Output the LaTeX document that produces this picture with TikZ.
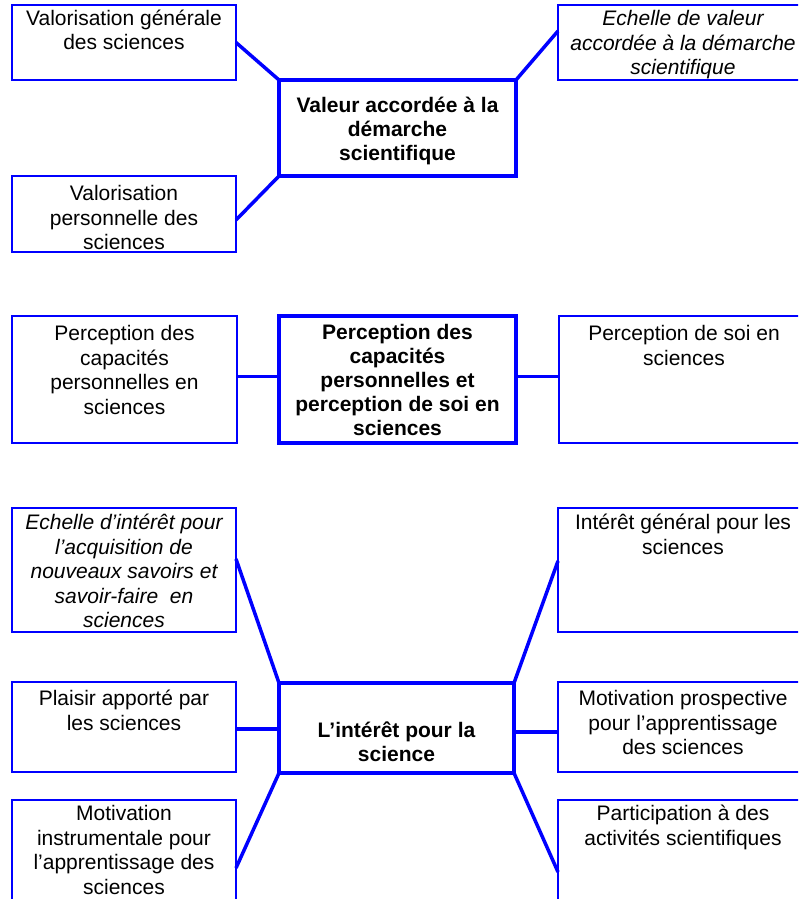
\documentclass[tikz,border=0pt]{standalone}
\usepackage{fontspec}
\setmainfont{Liberation Sans}
\begin{document}
\begin{tikzpicture}[x=1pt,y=-1pt,
  box/.style={draw=blue, line width=1.8pt, inner sep=0pt, outer sep=0pt, anchor=north west},
  mainbox/.style={draw=blue, line width=4.5pt, inner sep=0pt, outer sep=0pt, anchor=north west},
  link/.style={draw=blue, line width=3.5pt},
  txt/.style={anchor=north, inner sep=0pt, outer sep=0pt, align=center, font=\fontsize{21}{24.5}\selectfont},
  btxt/.style={txt, font=\fontsize{21}{24}\selectfont\bfseries},
  itxt/.style={txt, font=\fontsize{21}{24.5}\selectfont\itshape},
]
\useasboundingbox (0,0) rectangle (798,899);
\clip (0,0) rectangle (798,899);

% ---------- top group ----------
\node[box, minimum width=224pt, minimum height=75pt] (tl) at (12,5) {};
\node[box, minimum width=224pt, minimum height=76pt] (ml) at (12,176) {};
\node[mainbox, minimum width=237pt, minimum height=96pt] (c1) at (279,80) {};
\node[box, minimum width=250pt, minimum height=75pt] (tr) at (558,5) {};

\node[txt] (tlt) at (124,8.35) {\strut Valorisation générale\\des sciences};
\node[txt] (mlt) at (124,183.35) {\strut Valorisation\\personnelle des\\sciences};
\node[btxt] (c1t) at (397.5,95.7) {\strut Valeur accordée à la\\démarche\\scientifique};
\node[itxt] (trt) at (683,8.35) {\strut Echelle de valeur\\accordée à la démarche\\scientifique};

\draw[link] (tl.east) -- (c1.north west);
\draw[link] ([yshift=-6pt]ml.east) -- (c1.south west);
\draw[link] (c1.north east) -- ([yshift=11.5pt]tr.west);

% ---------- middle group ----------
\node[box, minimum width=225pt, minimum height=127pt] (pl) at (12,316) {};
\node[mainbox, minimum width=237pt, minimum height=127pt] (c2) at (279,316) {};
\node[box, minimum width=250pt, minimum height=127pt] (pr) at (559,316) {};

\node[txt] (plt) at (124.5,323.35) {\strut Perception des\\capacités\\personnelles en\\sciences};
\node[btxt] (c2t) at (397.5,322.7) {\strut Perception des\\capacités\\personnelles et\\perception de soi en\\sciences};
\node[txt] (prt) at (684,323.35) {\strut Perception de soi en\\sciences};

\draw[link] ([yshift=3pt]pl.east) -- ([yshift=3pt]c2.west);
\draw[link] ([yshift=3pt]c2.east) -- ([yshift=3pt]pr.west);

% ---------- bottom group ----------
\node[box, minimum width=224pt, minimum height=124pt] (b1) at (12,508) {};
\node[box, minimum width=224pt, minimum height=90pt] (b2) at (12,682) {};
\node[box, minimum width=224pt, minimum height=124pt] (b3) at (12,800) {};
\node[mainbox, minimum width=235pt, minimum height=90pt] (c3) at (279,683) {};
\node[box, minimum width=250pt, minimum height=124pt] (r1) at (558,508) {};
\node[box, minimum width=250pt, minimum height=90pt] (r2) at (558,682) {};
\node[box, minimum width=250pt, minimum height=124pt] (r3) at (558,800) {};

\node[itxt] (b1t) at (124,512.35) {\strut Echelle d’intérêt pour\\l’acquisition de\\nouveaux savoirs et\\savoir-faire\ \ en\\sciences};
\node[txt] (b2t) at (124,688.35) {\strut Plaisir apporté par\\les sciences};
\node[txt] (b3t) at (124,803.35) {\strut Motivation\\instrumentale pour\\l’apprentissage des\\sciences};
\node[btxt] (c3t) at (396.5,720.7) {\strut L’intérêt pour la\\science};
\node[txt] (r1t) at (683,512.35) {\strut Intérêt général pour les\\sciences};
\node[txt] (r2t) at (683,688.35) {\strut Motivation prospective\\pour l’apprentissage\\des sciences};
\node[txt] (r3t) at (683,803.35) {\strut Participation à des\\activités scientifiques};

\draw[link] ([yshift=11pt]b1.east) -- (c3.north west);
\draw[link] ([yshift=-1pt]c3.west) -- ([yshift=-1pt]c3.west -| b2.east);
\draw[link] ([yshift=-6pt]b3.east) -- (c3.south west);
\draw[link] (c3.north east) -- ([yshift=9pt]r1.west);
\draw[link] ([yshift=-4pt]c3.east) -- ([yshift=-4pt]c3.east -| r2.west);
\draw[link] (c3.south east) -- ([yshift=-10pt]r3.west);
\end{tikzpicture}
\end{document}
